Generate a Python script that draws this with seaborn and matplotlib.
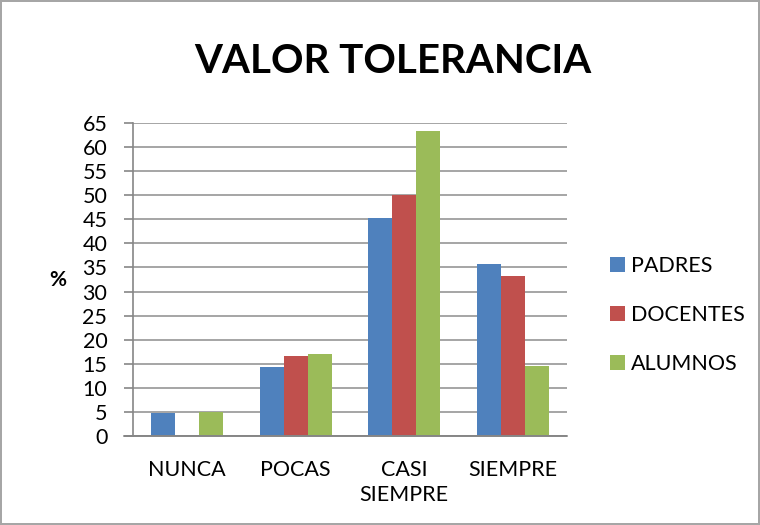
import matplotlib
matplotlib.use("Agg")
import matplotlib.pyplot as plt
import seaborn as sns
import pandas as pd
from matplotlib.patches import Patch

categories = ["NUNCA", "POCAS", "CASI\nSIEMPRE", "SIEMPRE"]
series = ["PADRES", "DOCENTES", "ALUMNOS"]
padres = [4.8, 14.3, 45.2, 35.7]
docentes = [0.0, 16.7, 50.0, 33.3]
alumnos = [4.9, 17.1, 63.4, 14.6]
yticks = list(range(0, 70, 5))
colors = ["#4F81BD", "#C0504D", "#9BBB59"]

rows = []
for name, vals in zip(series, [padres, docentes, alumnos]):
    for c, v in zip(categories, vals):
        rows.append({"cat": c, "serie": name, "val": v})
df = pd.DataFrame(rows)

sns.set_theme(style="white")
plt.rcParams["font.family"] = ["Lato", "DejaVu Sans"]
plt.rcParams["text.color"] = "black"
plt.rcParams["xtick.color"] = "black"
plt.rcParams["ytick.color"] = "black"
plt.rcParams["axes.labelcolor"] = "black"

fig = plt.figure(figsize=(7.6, 5.25), dpi=100)
fig.patch.set_edgecolor("#A6A6A6")
fig.patch.set_linewidth(1.5)
ax = fig.add_axes([0.175, 0.1695, 0.571, 0.5962])

sns.barplot(data=df, x="cat", y="val", hue="serie", order=categories,
            hue_order=series, palette=colors, width=0.66, saturation=1,
            ax=ax, legend=False, linewidth=0)

gray = "#868686"
ax.set_ylim(0, 65)
ax.set_yticks(yticks)
ax.set_yticklabels([str(t) for t in yticks], fontsize=15.5)
ax.set_xlim(-0.5, 3.5)
ax.set_xticks(range(len(categories)))
ax.set_xticklabels(categories, fontsize=15.5, linespacing=1.35)
ax.tick_params(axis="x", length=0, pad=17)
ax.tick_params(axis="y", length=6.5, width=1.2, color=gray, left=True, pad=12)
for lbl in ax.get_yticklabels():
    lbl.set_color("black")
ax.yaxis.grid(True, color="#9E9E9E", linewidth=1.3)
ax.set_axisbelow(True)
for s in ["top", "right", "bottom"]:
    ax.spines[s].set_visible(False)
ax.spines["left"].set_color(gray)
ax.spines["left"].set_linewidth(1.2)
ax.axhline(0, xmin=-9 / 434, xmax=1, color=gray, linewidth=1.4, clip_on=False, zorder=3)
ax.set_xlabel("")
ax.set_ylabel("%", rotation=0, fontsize=15, fontweight="bold", labelpad=18, va="center")

fig.text(0.517, 0.882, "VALOR TOLERANCIA", ha="center", va="center",
         fontsize=29, fontweight="bold")

handles = [Patch(facecolor=c, edgecolor="none") for c in colors]
fig.legend(handles, series, loc="center left", bbox_to_anchor=(0.802, 0.40),
           frameon=False, fontsize=15.5, labelspacing=1.35, handlelength=0.7,
           handleheight=0.7, handletextpad=0.3, borderpad=0, borderaxespad=0)

fig.savefig("out.png", dpi=100)
